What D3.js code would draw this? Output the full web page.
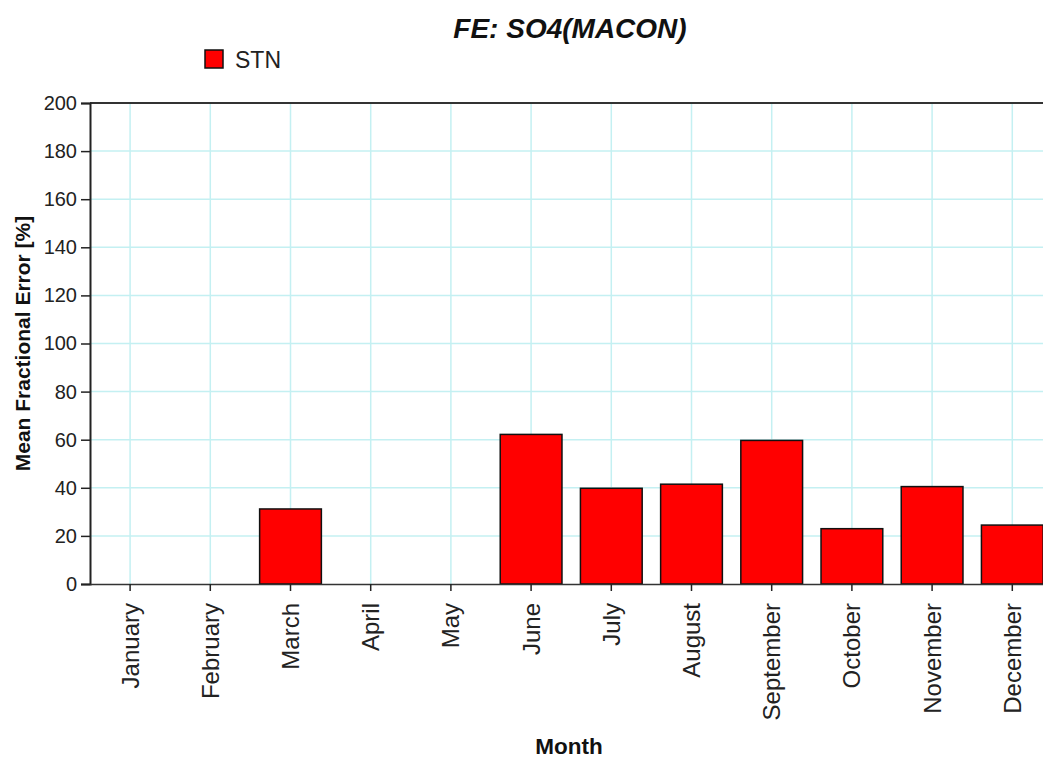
<!DOCTYPE html>
<html>
<head>
<meta charset="utf-8">
<script src="https://cdn.jsdelivr.net/npm/d3@7"></script>
<style>
  body { margin: 0; background: #fff; }
  text { font-family: "Liberation Sans", Arial, sans-serif; }
</style>
</head>
<body>
<div id="chart"></div>
<script>
// data
const months = ["January", "February", "March", "April", "May", "June",
                "July", "August", "September", "October", "November", "December"];
const stnValues = [null, null, 31.2, null, null, 62.2, 39.8, 41.5, 59.7, 23.0, 40.5, 24.5];
const yTicks = [0, 20, 40, 60, 80, 100, 120, 140, 160, 180, 200];
const seriesName = "STN";

const width = 1043, height = 759;
const margin = {top: 103, left: 90, bottom: 175};
const plotW = 962.4;   // runs past the right edge, like the original
const plotH = height - margin.top - margin.bottom;

const svg = d3.select("#chart").append("svg")
    .attr("width", width)
    .attr("height", height);

const x = d3.scaleBand()
    .domain(months)
    .range([margin.left, margin.left + plotW])
    .paddingInner(0.23)
    .paddingOuter(0.115);

const y = d3.scaleLinear()
    .domain([0, 200])
    .range([margin.top + plotH, margin.top]);

const cx = d => x(d) + x.bandwidth() / 2;

// grid
const grid = svg.append("g").attr("class", "grid");
grid.selectAll("line.h")
    .data(yTicks.slice(1))
    .enter().append("line")
    .attr("class", "h")
    .attr("x1", margin.left).attr("x2", margin.left + plotW)
    .attr("y1", d => y(d)).attr("y2", d => y(d))
    .attr("stroke", "#c4f0f2").attr("stroke-width", 1.5);
grid.selectAll("line.v")
    .data(months)
    .enter().append("line")
    .attr("class", "v")
    .attr("x1", cx).attr("x2", cx)
    .attr("y1", margin.top).attr("y2", margin.top + plotH)
    .attr("stroke", "#c4f0f2").attr("stroke-width", 1.5);

// top border
svg.append("line")
    .attr("x1", margin.left).attr("x2", margin.left + plotW)
    .attr("y1", margin.top).attr("y2", margin.top)
    .attr("stroke", "#333").attr("stroke-width", 2);

// bars
svg.selectAll("rect.bar")
    .data(months.map((m, i) => ({month: m, value: stnValues[i]})).filter(d => d.value != null))
    .enter().append("rect")
    .attr("class", "bar")
    .attr("x", d => x(d.month))
    .attr("y", d => y(d.value))
    .attr("width", x.bandwidth())
    .attr("height", d => y(0) - y(d.value))
    .attr("fill", "#ff0000")
    .attr("stroke", "#111")
    .attr("stroke-width", 1.5);

// y axis
const yAxis = svg.append("g")
    .attr("transform", `translate(${margin.left},0)`)
    .call(d3.axisLeft(y).tickValues(yTicks).tickSize(9).tickPadding(4));
yAxis.select(".domain").attr("stroke", "#222").attr("stroke-width", 2);
yAxis.selectAll(".tick line").attr("stroke", "#222").attr("stroke-width", 1.5);
yAxis.selectAll(".tick text")
    .attr("font-size", 20)
    .attr("fill", "#222")
    .attr("font-family", "Liberation Sans, Arial, sans-serif");

// x axis
const xAxis = svg.append("g")
    .attr("transform", `translate(0,${y(0)})`)
    .call(d3.axisBottom(x).tickSize(7).tickSizeOuter(0));
xAxis.select(".domain").attr("stroke", "#333").attr("stroke-width", 1.5);
xAxis.selectAll(".tick line").attr("stroke", "#222").attr("stroke-width", 1.5);
xAxis.selectAll(".tick text")
    .attr("font-size", 24)
    .attr("fill", "#222")
    .attr("font-family", "Liberation Sans, Arial, sans-serif")
    .attr("text-anchor", "end")
    .attr("transform", "rotate(-90)")
    .attr("x", -19)
    .attr("y", 0)
    .attr("dy", "0.35em");

// title
svg.append("text")
    .attr("x", 570).attr("y", 38)
    .attr("text-anchor", "middle")
    .attr("font-size", 28)
    .attr("font-weight", "bold")
    .attr("font-style", "italic")
    .attr("fill", "#111")
    .text("FE: SO4(MACON)");

// legend
svg.append("rect")
    .attr("x", 205).attr("y", 50)
    .attr("width", 18).attr("height", 18)
    .attr("fill", "#ff0000")
    .attr("stroke", "#111").attr("stroke-width", 1.5);
svg.append("text")
    .attr("x", 235).attr("y", 68)
    .attr("font-size", 23)
    .attr("fill", "#222")
    .text(seriesName);

// axis titles
svg.append("text")
    .attr("transform", `translate(30,${margin.top + plotH / 2}) rotate(-90)`)
    .attr("text-anchor", "middle")
    .attr("font-size", 21)
    .attr("font-weight", "bold")
    .attr("fill", "#111")
    .text("Mean Fractional Error [%]");

svg.append("text")
    .attr("x", 569).attr("y", 754)
    .attr("text-anchor", "middle")
    .attr("font-size", 22.5)
    .attr("font-weight", "bold")
    .attr("fill", "#111")
    .text("Month");
</script>
</body>
</html>
